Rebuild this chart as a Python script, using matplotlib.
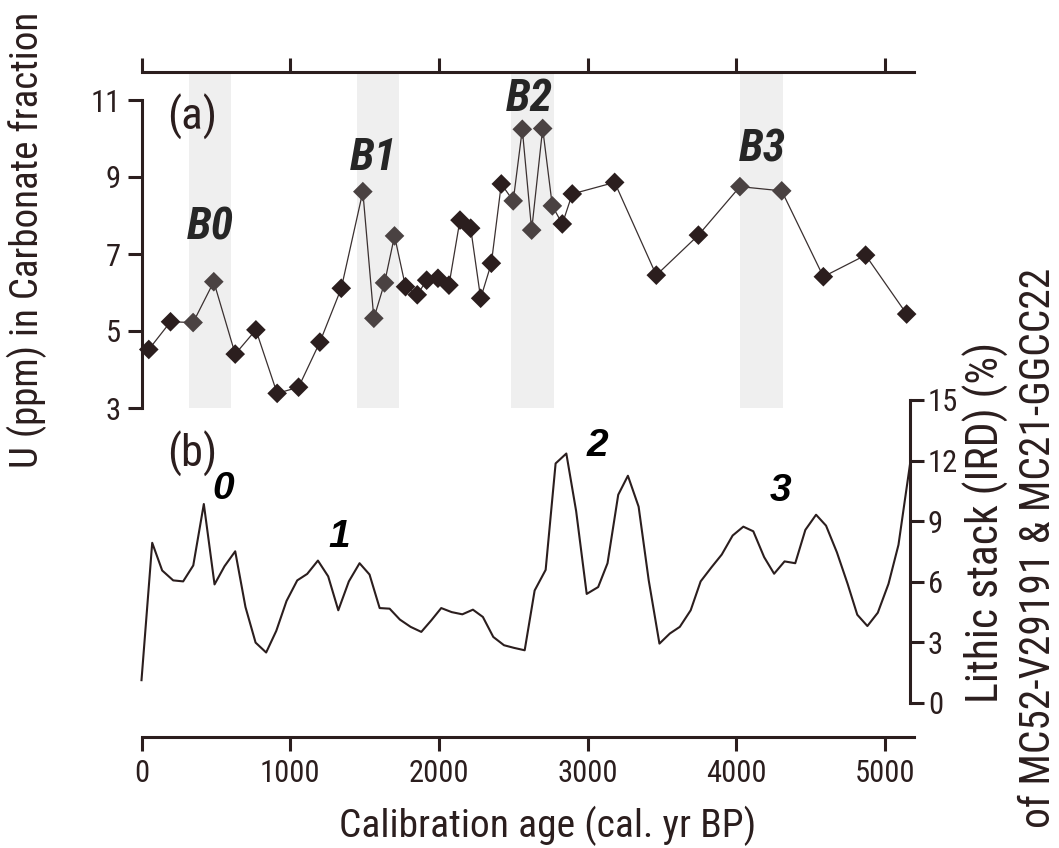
import matplotlib
matplotlib.use("Agg")
import matplotlib.pyplot as plt
from matplotlib import font_manager
import numpy as np

# ---------------- data ----------------
u_age = [49, 195, 347, 486, 630, 769, 912, 1056, 1199, 1343, 1488, 1562, 1634, 1701,
         1775, 1854, 1917, 1993, 2067, 2141, 2213, 2280, 2352, 2419, 2499, 2560, 2623,
         2697, 2762, 2829, 2896, 3181, 3461, 3744, 4023, 4304, 4584, 4868, 5144]
u_ppm = [4.52, 5.24, 5.22, 6.28, 4.40, 5.03, 3.38, 3.54, 4.71, 6.11, 8.62, 5.33, 6.25, 7.47,
         6.15, 5.94, 6.32, 6.37, 6.19, 7.88, 7.67, 5.85, 6.76, 8.82, 8.38, 10.24, 7.62,
         10.26, 8.25, 7.78, 8.56, 8.86, 6.45, 7.49, 8.75, 8.64, 6.41, 6.97, 5.44]

ird_age = [0, 72, 139, 213, 280, 348, 419, 491, 558, 630,
           699, 767, 838, 906, 975, 1047, 1114, 1186, 1255, 1323,
           1394, 1466, 1533, 1601, 1668, 1737, 1809, 1881, 1948, 2015,
           2085, 2157, 2228, 2295, 2365, 2437, 2504, 2576, 2643, 2717,
           2784, 2856, 2922, 2993, 3070, 3133, 3205, 3270, 3342, 3410,
           3482, 3552, 3619, 3692, 3759, 3832, 3901, 3974, 4046, 4113,
           4186, 4253, 4323, 4395, 4463, 4535, 4602, 4675, 4747, 4812,
           4880, 4950, 5022, 5089, 5170]
ird_pct = [1.13, 7.93, 6.56, 6.07, 6.02, 6.81, 9.85, 5.87, 6.77, 7.51,
           4.75, 2.99, 2.50, 3.57, 5.05, 6.07, 6.39, 7.05, 6.27, 4.59,
           6.02, 6.92, 6.36, 4.70, 4.67, 4.13, 3.77, 3.52, 4.09, 4.70,
           4.50, 4.39, 4.62, 4.26, 3.27, 2.86, 2.73, 2.61, 5.57, 6.59,
           11.86, 12.35, 9.50, 5.40, 5.74, 6.92, 10.31, 11.25, 9.72, 6.07,
           2.94, 3.44, 3.77, 4.59, 6.02, 6.72, 7.35, 8.29, 8.73, 8.50,
           7.22, 6.40, 7.01, 6.92, 8.57, 9.32, 8.78, 7.46, 5.90, 4.37,
           3.81, 4.47, 5.90, 7.83, 12.00]

band_start = [316, 1446, 2481, 4021]
band_end = [605, 1728, 2771, 4311]
band_labels = ["B0", "B1", "B2", "B3"]
ird_event_labels = ["0", "1", "2", "3"]

x_ticks = [0, 1000, 2000, 3000, 4000, 5000]
u_ticks = [3, 5, 7, 9, 11]
ird_ticks = [0, 3, 6, 9, 12, 15]

# ---------------- fonts ----------------
installed = {f.name for f in font_manager.fontManager.ttflist}
condensed = None
for cand in ["Liberation Sans Narrow", "Roboto Condensed", "DejaVu Sans Condensed",
             "Open Sans Condensed", "Noto Sans Condensed", "Arial Narrow"]:
    if cand in installed:
        condensed = cand
        break
MAIN = [condensed or "Liberation Sans", "DejaVu Sans"]
REG = ["Liberation Sans", "DejaVu Sans"]
plt.rcParams["font.family"] = MAIN

# ---------------- style ----------------
W, H = 1059, 848
DARK = "#2b1e1e"
GRAY_MK = "#4a4242"
BAND = "#efefef"

fig = plt.figure(figsize=(W / 100, H / 100), dpi=100)
renderer = fig.canvas.get_renderer()


def rect(x0, y0, x1, y1):
    return [x0 / W, 1 - y1 / H, (x1 - x0) / W, (y1 - y0) / H]


def fx(x, y):
    return x / W, 1 - y / H


def fit(txt, target_px, horizontal=True, max_pt=40):
    """scale a text's font size so its long side spans target_px pixels"""
    txt.set_fontsize(20)
    bb = txt.get_window_extent(renderer)
    cur = bb.width if horizontal else bb.height
    size = min(max_pt, 20 * target_px / cur)
    txt.set_fontsize(size)
    return size


# tick-label size: compromise between width of "1000" (~58 px) and cap height (~23 px)
probe = fig.text(0, 0, "1000", fontsize=20)
wbb = probe.get_window_extent(renderer).width
size_w = 20 * 58 / wbb
probe.remove()
TICK = float(np.sqrt(size_w * 23))

XMAX = 5190
SPW = 2.2
TL = 10

# frame axes: top and bottom x-axis spines
frame = fig.add_axes(rect(141.5, 72, 913.5, 737))
frame.set_xlim(0, XMAX)
frame.set_ylim(0, 1)
frame.patch.set_visible(False)
for s in ["left", "right"]:
    frame.spines[s].set_visible(False)
for s in ["top", "bottom"]:
    frame.spines[s].set_color(DARK)
    frame.spines[s].set_linewidth(SPW)
frame.set_xticks(x_ticks)
frame.set_yticks([])
frame.tick_params(axis="x", which="both", top=True, bottom=True, labeltop=False,
                  labelbottom=True, direction="out", length=TL, width=SPW,
                  color=DARK, labelsize=TICK, labelcolor=DARK, pad=6)
ymin_band = (737 - 408) / (737 - 72)
for lo, hi in zip(band_start, band_end):
    frame.axvspan(lo, hi, ymin=ymin_band, ymax=1.0, color=BAND, lw=0, zorder=0)

# top panel (a)
ax1 = fig.add_axes(rect(141.5, 100, 913.5, 408))
ax1.set_xlim(0, XMAX)
ax1.set_ylim(3, 11)
ax1.patch.set_visible(False)
for s in ["top", "right", "bottom"]:
    ax1.spines[s].set_visible(False)
ax1.spines["left"].set_color(DARK)
ax1.spines["left"].set_linewidth(SPW)
ax1.set_xticks([])
ax1.set_yticks(u_ticks)
ax1.tick_params(axis="y", direction="out", length=TL, width=SPW, color=DARK,
                labelsize=TICK, labelcolor=DARK, pad=5)
ax1.plot(u_age, u_ppm, color="#3a3030", lw=0.9, zorder=2, clip_on=False)
in_band = [any(lo <= a <= hi for lo, hi in zip(band_start, band_end)) for a in u_age]
cols = [GRAY_MK if b else DARK for b in in_band]
ax1.scatter(u_age, u_ppm, marker="D", s=100, c=cols, edgecolors="none", zorder=3,
            clip_on=False)

# bottom panel (b)
ax2 = fig.add_axes(rect(141.5, 400, 913.5, 703))
ax2.set_xlim(0, XMAX)
ax2.set_ylim(0, 15)
ax2.patch.set_visible(False)
for s in ["top", "left", "bottom"]:
    ax2.spines[s].set_visible(False)
ax2.spines["right"].set_position(("data", 5165))
ax2.spines["right"].set_color(DARK)
ax2.spines["right"].set_linewidth(SPW)
ax2.set_xticks([])
ax2.yaxis.tick_right()
ax2.set_yticks(ird_ticks)
ax2.tick_params(axis="y", direction="out", length=TL, width=SPW, color=DARK,
                labelsize=TICK, labelcolor=DARK, pad=3)
ax2.plot(ird_age, ird_pct, color=DARK, lw=1.5, zorder=2, clip_on=False)

# axis titles (sized to the reference's extents)
t = fig.text(*fx(27, 240), "U (ppm) in Carbonate fraction", rotation=90, ha="center",
             va="center", color=DARK)
fit(t, 455, horizontal=False)
t = fig.text(*fx(548, 826), "Calibration age (cal. yr BP)", ha="center", va="center",
             color=DARK)
fit(t, 415)
t = fig.text(*fx(986, 522), "Lithic stack (IRD) (%)", rotation=90, ha="center",
             va="center", color=DARK)
fit(t, 362, horizontal=False)
t = fig.text(*fx(1038, 548), "of MC52-V29191 & MC21-GGCC22", rotation=90, ha="center",
             va="center", color=DARK)
fit(t, 560, horizontal=False)

# panel letters
t = fig.text(*fx(192, 117), "(a)", ha="center", va="center", color=DARK)
fit(t, 50)
t = fig.text(*fx(192, 454), "(b)", ha="center", va="center", color=DARK)
fit(t, 50)

# band labels
b_pos = [(210, 228), (373, 158), (529, 99), (762, 149)]
for lab, (x, y) in zip(band_labels, b_pos):
    t = fig.text(*fx(x, y), lab, ha="center", va="center", fontweight="bold",
                 fontstyle="italic", color="#262626")
    fit(t, 47)

# IRD event labels
e_pos = [(223, 489), (339, 537), (597, 446), (780, 491)]
for lab, (x, y) in zip(ird_event_labels, e_pos):
    fig.text(*fx(x, y), lab, ha="center", va="center", fontsize=28,
             fontweight="bold", fontstyle="italic", color="black", family=REG)

fig.savefig("out.png", dpi=100)
